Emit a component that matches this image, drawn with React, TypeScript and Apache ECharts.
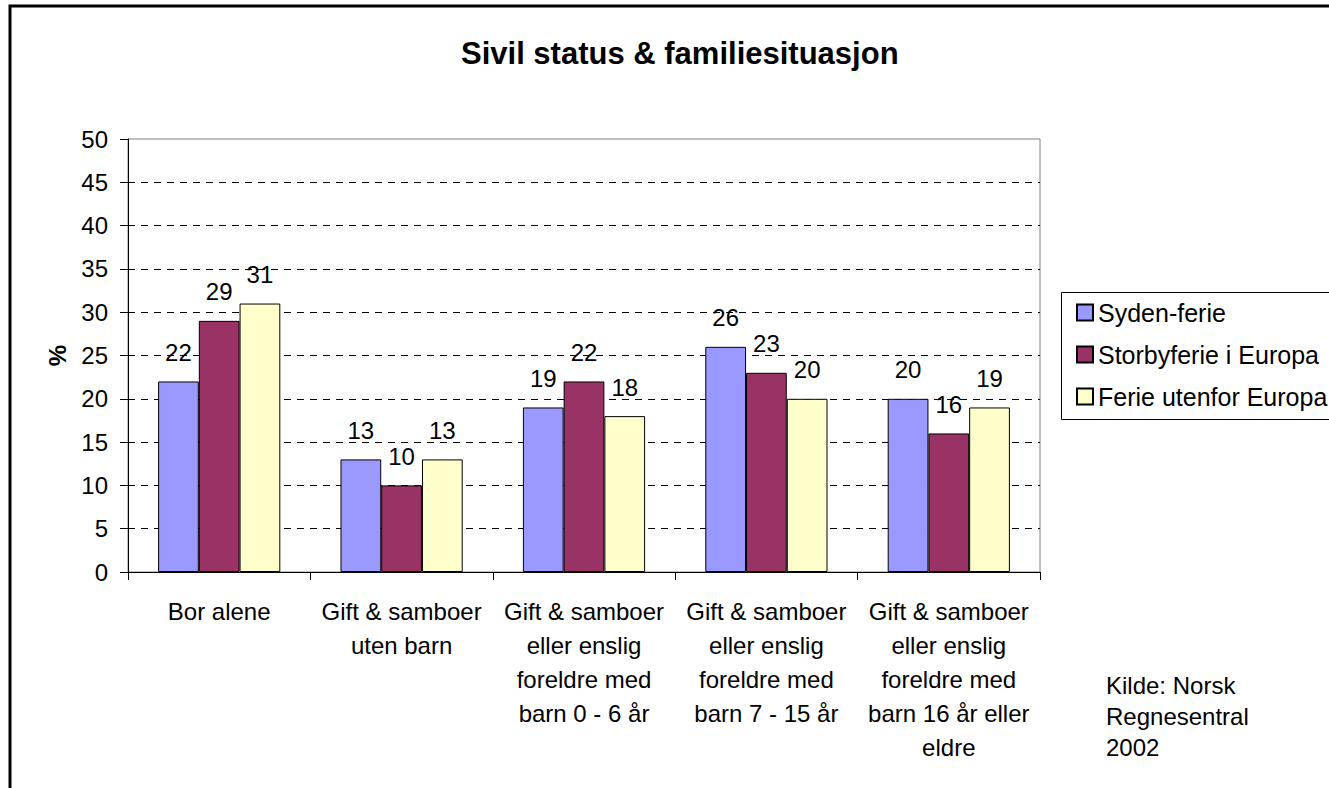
import React, { useEffect, useRef } from "react";
import * as echarts from "echarts";

const titleText = "Sivil status & familiesituasjon";
const categories = [
  "Bor alene",
  "Gift & samboer\nuten barn",
  "Gift & samboer\neller enslig\nforeldre med\nbarn 0 - 6 år",
  "Gift & samboer\neller enslig\nforeldre med\nbarn 7 - 15 år",
  "Gift & samboer\neller enslig\nforeldre med\nbarn 16 år eller\neldre",
];
const seriesNames = ["Syden-ferie", "Storbyferie i Europa", "Ferie utenfor Europa"];
const sydenFerie = [22, 13, 19, 26, 20];
const storbyferie = [29, 10, 22, 23, 16];
const ferieUtenfor = [31, 13, 18, 20, 19];
const seriesColors = ["#9999FF", "#993366", "#FFFFCC"];
const yMin = 0;
const yMax = 50;
const yInterval = 5;
const yAxisName = "%";
const sourceText = "Kilde: Norsk\nRegnesentral\n2002";

const FONT = "'Liberation Sans', Arial, sans-serif";

export default function App() {
  const ref = useRef<HTMLDivElement>(null);

  useEffect(() => {
    if (!ref.current) return;
    const chart = echarts.init(ref.current, undefined, { renderer: "svg" });
    const values = [sydenFerie, storbyferie, ferieUtenfor];
    chart.setOption({
      animation: false,
      backgroundColor: "#ffffff",
      textStyle: { fontFamily: FONT },
      title: {
        text: titleText,
        left: 456,
        top: 33,
        textStyle: { fontFamily: FONT, fontSize: 31, fontWeight: "bold", color: "#000" },
      },
      legend: {
        orient: "vertical",
        left: 1071,
        top: 295,
        itemWidth: 16,
        itemHeight: 16,
        itemGap: 17,
        icon: "rect",
        textStyle: { fontFamily: FONT, fontSize: 25, color: "#000", lineHeight: 25 },
        data: seriesNames,
      },
      grid: {
        left: 128,
        top: 139,
        width: 912,
        height: 433,
        show: true,
        borderColor: "#808080",
        borderWidth: 1,
        backgroundColor: "transparent",
      },
      xAxis: {
        type: "category",
        data: categories,
        boundaryGap: true,
        axisLine: { lineStyle: { color: "#000", width: 1 } },
        axisTick: { show: true, alignWithLabel: false, length: 8, lineStyle: { color: "#000" } },
        axisLabel: {
          interval: 0,
          margin: 22,
          fontFamily: FONT,
          fontSize: 24,
          lineHeight: 34,
          color: "#000",
          align: "center",
        },
        splitLine: { show: false },
      },
      yAxis: {
        type: "value",
        min: yMin,
        max: yMax,
        interval: yInterval,
        name: yAxisName,
        nameLocation: "middle",
        nameGap: 59,
        nameRotate: 90,
        nameTextStyle: { fontFamily: FONT, fontSize: 24, fontWeight: "bold", color: "#000" },
        axisLine: { show: true, lineStyle: { color: "#000", width: 1 } },
        axisTick: { show: true, length: 8, lineStyle: { color: "#000" } },
        axisLabel: { margin: 20, fontFamily: FONT, fontSize: 24, color: "#000" },
        splitLine: {
          show: true,
          showMinLine: false,
          showMaxLine: false,
          lineStyle: { color: "#000", type: [7, 6], width: 1 },
        },
      },
      series: seriesNames.map((name, i) => ({
        name,
        type: "bar",
        data: values[i],
        barGap: "0%",
        barCategoryGap: "33%",
        itemStyle: { color: seriesColors[i], borderColor: "#000", borderWidth: 1 },
        label: {
          show: true,
          position: "top",
          distance: 17,
          fontFamily: FONT,
          fontSize: 24,
          color: "#000",
        },
      })),
      graphic: [
        {
          type: "rect",
          shape: { x: 10, y: 6, width: 1400, height: 900 },
          style: { fill: "none", stroke: "#000", lineWidth: 3 },
          silent: true,
        },
        {
          type: "rect",
          shape: { x: 1061.5, y: 292.5, width: 400, height: 127 },
          style: { fill: "none", stroke: "#000", lineWidth: 1 },
          silent: true,
        },
        {
          type: "text",
          left: 1106,
          top: 670,
          style: {
            text: sourceText,
            fontFamily: FONT,
            fontSize: 24,
            lineHeight: 31,
            fill: "#000",
          },
        },
      ],
    });
    return () => chart.dispose();
  }, []);

  return (
    <div
      ref={ref}
      style={{ position: "fixed", left: 0, top: 0, width: 1329, height: 788, background: "#fff" }}
    />
  );
}
